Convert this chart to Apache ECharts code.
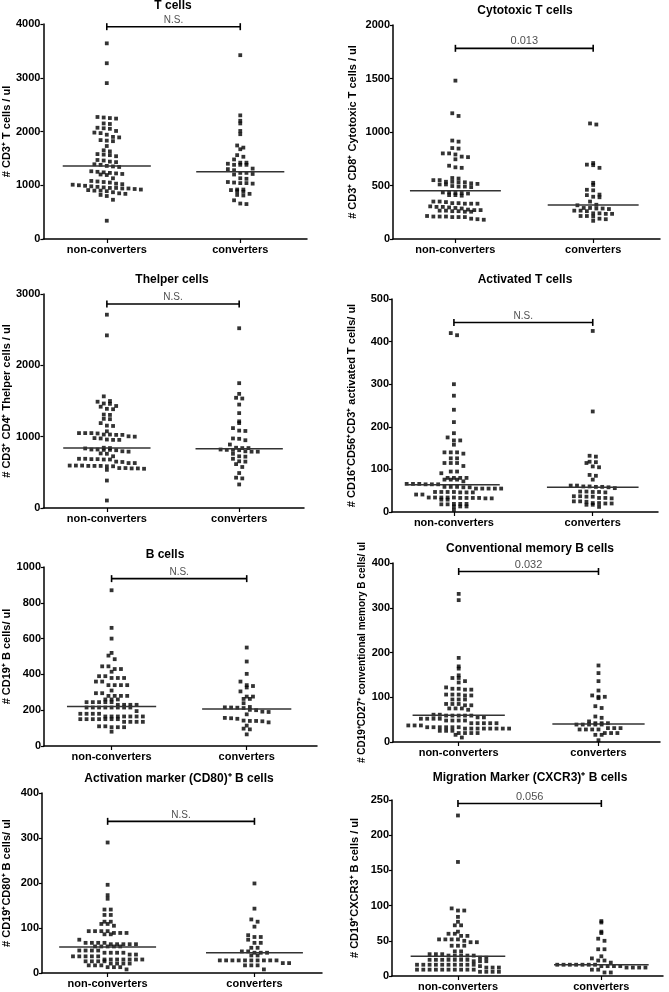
<!DOCTYPE html>
<html>
<head>
<meta charset="utf-8">
<script src="https://cdn.jsdelivr.net/npm/echarts@6/dist/echarts.min.js"></script>
<style>
  html, body { margin: 0; padding: 0; background: #fff; }
  #chart { width: 669px; height: 992px; }
</style>
</head>
<body>
<div id="chart"></div>
<script>
const groups = ['non-converters', 'converters'];

// ── Values (cells / ul) ──────────────────────────────────────────────────────
const tCellsNon = [3640, 3270, 2900, 2270, 2260, 2250, 2240, 2150, 2140, 2070, 2060, 2050, 2010, 1980, 1970, 1940, 1900, 1890, 1840, 1830, 1820, 1730, 1650, 1630, 1580, 1570, 1560, 1540, 1470, 1460, 1440, 1430, 1390, 1380, 1360, 1350, 1340, 1260, 1250, 1240, 1230, 1220, 1210, 1200, 1190, 1130, 1080, 1070, 1060, 1050, 1030, 1020, 1010, 1000, 990, 980, 970, 960, 950, 950, 940, 940, 930, 920, 910, 900, 900, 890, 870, 850, 840, 820, 800, 730, 340];
const tCellsConv = [3420, 2300, 2200, 2150, 2010, 1950, 1740, 1700, 1670, 1560, 1530, 1480, 1420, 1420, 1400, 1380, 1380, 1380, 1310, 1300, 1280, 1230, 1230, 1210, 1200, 1130, 1120, 1060, 1050, 1040, 1040, 1030, 920, 920, 910, 890, 880, 840, 820, 810, 720, 660, 650];

const cytotoxicNon = [1480, 1175, 1150, 920, 910, 850, 845, 800, 800, 790, 770, 765, 745, 685, 670, 665, 570, 565, 550, 550, 535, 535, 530, 530, 520, 515, 510, 510, 495, 490, 490, 485, 435, 435, 430, 430, 425, 410, 410, 405, 350, 350, 345, 335, 335, 330, 330, 330, 305, 300, 300, 295, 290, 285, 275, 270, 270, 265, 265, 260, 260, 255, 255, 215, 210, 210, 210, 205, 205, 205, 190, 185, 180];
const cytotoxicConv = [1080, 1070, 710, 695, 690, 665, 525, 505, 460, 455, 415, 410, 395, 390, 350, 320, 315, 290, 290, 285, 285, 280, 265, 265, 260, 240, 240, 235, 235, 215, 215, 210, 190, 185, 170];

const thelperNon = [2710, 2420, 1565, 1500, 1490, 1465, 1460, 1430, 1420, 1390, 1385, 1310, 1305, 1250, 1245, 1190, 1155, 1150, 1075, 1050, 1050, 1050, 1045, 1030, 1030, 1025, 1025, 1005, 1000, 980, 975, 960, 955, 955, 845, 840, 835, 820, 820, 815, 815, 810, 795, 790, 765, 760, 725, 690, 690, 685, 685, 680, 680, 650, 645, 630, 630, 595, 595, 595, 590, 590, 590, 585, 585, 560, 560, 555, 555, 550, 535, 385, 105];
const thelperConv = [2520, 1750, 1600, 1545, 1535, 1450, 1330, 1215, 1190, 1120, 1085, 1080, 975, 970, 950, 890, 845, 840, 840, 820, 815, 815, 810, 795, 790, 790, 760, 725, 720, 690, 655, 650, 615, 575, 490, 425, 415, 330];

const activatedNon = [420, 415, 300, 273, 240, 211, 185, 175, 168, 168, 158, 140, 140, 140, 137, 126, 126, 115, 115, 115, 108, 95, 95, 91, 80, 80, 80, 80, 76, 76, 76, 72, 66, 66, 66, 65, 65, 65, 59, 59, 59, 58, 58, 55, 55, 55, 55, 55, 47, 47, 47, 47, 46, 46, 46, 41, 41, 34, 34, 34, 34, 34, 33, 33, 33, 33, 32, 32, 29, 29, 19, 19, 19, 18, 18, 13, 13, 13, 5];
const activatedConv = [425, 236, 132, 130, 118, 117, 115, 107, 105, 87, 85, 76, 62, 62, 60, 60, 59, 59, 58, 56, 48, 48, 47, 47, 46, 37, 37, 36, 36, 33, 33, 32, 25, 25, 24, 21, 21, 20, 20, 17, 17, 12];

const bCellsNon = [870, 660, 600, 520, 505, 485, 445, 445, 430, 430, 415, 390, 390, 380, 380, 380, 360, 360, 340, 340, 340, 340, 310, 295, 295, 280, 280, 280, 280, 260, 260, 260, 245, 245, 245, 245, 245, 230, 230, 230, 230, 215, 215, 215, 215, 215, 215, 215, 215, 195, 180, 180, 180, 180, 165, 165, 165, 165, 165, 165, 165, 150, 150, 150, 150, 150, 150, 150, 135, 135, 135, 135, 110, 110, 105, 105, 105, 80];
const bCellsConv = [550, 472, 403, 360, 340, 335, 327, 305, 276, 276, 263, 263, 239, 218, 216, 215, 214, 212, 202, 200, 192, 190, 177, 157, 155, 152, 142, 140, 140, 138, 132, 114, 97, 93, 65];

const memoryNon = [331, 317, 188, 169, 164, 149, 143, 143, 136, 133, 122, 119, 119, 117, 117, 106, 106, 106, 104, 104, 95, 95, 95, 85, 85, 85, 82, 82, 75, 75, 75, 72, 61, 61, 59, 59, 59, 59, 59, 55, 55, 52, 52, 52, 52, 48, 48, 48, 48, 42, 42, 42, 42, 42, 37, 37, 37, 33, 33, 33, 33, 33, 33, 30, 30, 30, 30, 30, 30, 30, 30, 25, 25, 25, 20, 20, 20, 20, 16, 10];
const memoryConv = [171, 154, 136, 115, 104, 101, 101, 98, 80, 76, 57, 54, 46, 42, 42, 42, 39, 39, 39, 39, 39, 31, 31, 31, 28, 28, 28, 28, 20, 20, 20, 16, 16, 4];

const cd80Non = [290, 196, 173, 165, 141, 141, 129, 129, 114, 114, 109, 109, 105, 93, 93, 93, 93, 89, 89, 89, 86, 86, 74, 67, 67, 67, 67, 64, 64, 64, 64, 64, 59, 59, 59, 59, 59, 50, 50, 50, 50, 45, 45, 45, 45, 41, 41, 37, 37, 37, 37, 37, 30, 30, 30, 30, 30, 30, 30, 26, 26, 26, 26, 21, 21, 21, 21, 17, 17, 17, 13, 13, 13, 8];
const cd80Conv = [199, 143, 119, 114, 103, 84, 80, 80, 74, 67, 67, 56, 56, 48, 48, 45, 45, 45, 39, 39, 28, 28, 28, 28, 28, 28, 28, 28, 28, 28, 22, 22, 17, 17, 17, 8];

const cxcr3Non = [228, 162, 96, 93, 93, 84, 77, 72, 72, 63, 60, 60, 57, 57, 52, 52, 52, 52, 50, 48, 48, 43, 43, 43, 35, 35, 31, 31, 31, 29, 29, 29, 29, 29, 26, 26, 23, 23, 23, 23, 23, 23, 23, 21, 21, 21, 16, 16, 16, 16, 16, 16, 16, 16, 16, 16, 14, 12, 12, 12, 9, 9, 9, 9, 9, 9, 9, 9, 9, 9, 6, 6, 6, 6];
const cxcr3Conv = [78, 76, 63, 61, 53, 50, 38, 38, 28, 25, 22, 22, 19, 16, 16, 16, 16, 16, 16, 16, 14, 14, 14, 14, 12, 12, 12, 12, 9, 9, 5, 5];

const seriesValues = [
  [tCellsNon, tCellsConv], [cytotoxicNon, cytotoxicConv],
  [thelperNon, thelperConv], [activatedNon, activatedConv],
  [bCellsNon, bCellsConv], [memoryNon, memoryConv],
  [cd80Non, cd80Conv], [cxcr3Non, cxcr3Conv],
];

// centre (mean) lines and significance brackets as drawn
const centreLines = [[1360, 1250], [452, 318], [841, 832], [64, 58], [220, 207], [60, 40], [58, 45], [28, 16]];
const bracketAt   = [3950, 1782, 2860, 445, 935, 381, 337, 245];
const pLabels     = ['N.S.', '0.013', 'N.S.', 'N.S.', 'N.S.', '0.032', 'N.S.', '0.056'];

const yMax  = [4000, 2000, 3000, 500, 1000, 400, 400, 250];
const yStep = [1000, 500, 1000, 100, 200, 100, 100, 50];

const titles = [
  'T cells', 'Cytotoxic T cells', 'Thelper cells', 'Activated T cells',
  'B cells', 'Conventional memory B cells',
  'Activation marker (CD80)⁺ B cells', 'Migration Marker (CXCR3)⁺ B cells',
];
const yNames = [
  '# CD3⁺ T cells / ul', '# CD3⁺ CD8⁺ Cytotoxic T cells / ul',
  '# CD3⁺ CD4⁺ Thelper cells / ul', '# CD16⁺CD56⁺CD3⁺ activated T cells/ ul',
  '# CD19⁺ B cells/ ul', '# CD19⁺CD27⁺ conventional memory B cells/ ul',
  '# CD19⁺CD80⁺ B cells/ ul', '# CD19⁺CXCR3⁺ B cells / ul',
];

// ── Layout (pixels) ──────────────────────────────────────────────────────────
const panels = [
  { left: 39, top: 24,  right: 307, bottom: 239, xMin: 0.525, xMax: 2.50, nameGap: 27, nameSize: 11, tx: 173, ty: 6 },
  { left: 393, top: 25, right: 660, bottom: 239, xMin: 0.547, xMax: 2.485, nameGap: 35, nameSize: 11, tx: 525, ty: 11 },
  { left: 39, top: 294, right: 304, bottom: 508, xMin: 0.52, xMax: 2.49, nameGap: 27, nameSize: 11, tx: 172, ty: 280 },
  { left: 392, top: 299, right: 658, bottom: 512, xMin: 0.554, xMax: 2.47, nameGap: 35, nameSize: 11, tx: 525, ty: 280 },
  { left: 42, top: 567, right: 317, bottom: 746, xMin: 0.50, xMax: 2.52, nameGap: 32, nameSize: 11, tx: 165, ty: 555 },
  { left: 393, top: 563, right: 660, bottom: 742, xMin: 0.53, xMax: 2.44, nameGap: 26, nameSize: 10, tx: 530, ty: 549 },
  { left: 42, top: 793, right: 322, bottom: 973, xMin: 0.553, xMax: 2.46, nameGap: 30, nameSize: 11, tx: 179, ty: 779 },
  { left: 392, top: 800, right: 663, bottom: 978, xMin: 0.54, xMax: 2.43, nameGap: 32, nameSize: 11, tx: 530, ty: 778 },
];

const FONT = '"Liberation Sans", Arial, sans-serif';
const ROW_H = 5.2;   // px height of one row of the dot plot
const STEP  = 6.3;   // px between neighbours in a row

// Prism-style dot plot: points falling in the same row band are laid side by side
function swarm(values, centre, p, yTop) {
  const pxY = (p.bottom - p.top) / yTop;
  const pxX = (p.right - p.left) / (p.xMax - p.xMin);
  const rows = new Map();
  values.forEach(v => {
    const r = Math.round(v * pxY / ROW_H);
    if (!rows.has(r)) rows.set(r, []);
    rows.get(r).push(v);
  });
  const out = [];
  rows.forEach(list => {
    const n = list.length;
    list.forEach((v, j) => out.push([centre + (j - (n - 1) / 2) * STEP / pxX, v]));
  });
  return out;
}

const grid = [], xAxis = [], yAxis = [], series = [], graphic = [];

panels.forEach((p, i) => {
  grid.push({ left: p.left, top: p.top, width: p.right - p.left, height: p.bottom - p.top });

  xAxis.push({
    type: 'value', gridIndex: i, min: p.xMin, max: p.xMax,
    axisLine: { lineStyle: { color: '#000', width: 1.5 } },
    axisTick: { customValues: [1, 2], length: 4, lineStyle: { color: '#000', width: 1.2 } },
    axisLabel: {
      customValues: [1, 2], margin: 5,
      formatter: v => groups[Math.round(v) - 1] || '',
      color: '#000', fontFamily: FONT, fontWeight: 'bold', fontSize: 11,
    },
    splitLine: { show: false },
  });

  yAxis.push({
    type: 'value', gridIndex: i, min: 0, max: yMax[i], interval: yStep[i],
    name: yNames[i], nameLocation: 'middle', nameGap: p.nameGap, nameRotate: 90,
    nameTextStyle: { color: '#000', fontFamily: FONT, fontWeight: 'bold', fontSize: p.nameSize },
    axisLine: { show: true, lineStyle: { color: '#000', width: 1.5 } },
    axisTick: { show: true, length: 3, lineStyle: { color: '#000', width: 1.2 } },
    axisLabel: {
      formatter: v => String(v), margin: 3,
      color: '#000', fontFamily: FONT, fontWeight: 'bold', fontSize: 11,
    },
    splitLine: { show: false },
  });

  seriesValues[i].forEach((vals, g) => {
    series.push({
      type: 'scatter', xAxisIndex: i, yAxisIndex: i,
      symbol: 'rect', symbolSize: 3.8,
      itemStyle: { color: '#000' },
      data: swarm(vals, g + 1, p, yMax[i]),
      silent: true,
    });
    const m = centreLines[i][g];
    series.push({
      type: 'line', xAxisIndex: i, yAxisIndex: i, symbol: 'none', silent: true,
      lineStyle: { color: '#333', width: 1.5 },
      data: [[g + 1 - 0.33, m], [g + 1 + 0.33, m]],
    });
  });

  const b = bracketAt[i];
  series.push({
    type: 'line', xAxisIndex: i, yAxisIndex: i, silent: true,
    symbol: 'rect', symbolSize: [1.6, 7],
    itemStyle: { color: '#000' },
    lineStyle: { color: '#000', width: 1.6 },
    data: [[1, b], [2, b]],
  });
  // p-value text over the bracket
  series.push({
    type: 'scatter', xAxisIndex: i, yAxisIndex: i, silent: true,
    symbol: 'circle', symbolSize: 1,
    itemStyle: { color: 'transparent' },
    label: {
      show: true, position: 'top', distance: 1, formatter: pLabels[i],
      color: '#222', fontFamily: FONT, fontSize: pLabels[i] === 'N.S.' ? 10 : 11,
    },
    data: [[1.5, b]],
  });

  graphic.push({
    type: 'text', x: p.tx, y: p.ty,
    style: {
      text: titles[i], x: 0, y: 0, textAlign: 'center', textVerticalAlign: 'middle',
      fill: '#000', font: `bold 12px ${FONT}`,
    },
  });
});

const chart = echarts.init(document.getElementById('chart'), null, { renderer: 'canvas' });
chart.setOption({
  backgroundColor: '#fff',
  animation: false,
  grid, xAxis, yAxis, series, graphic,
});
</script>
</body>
</html>
